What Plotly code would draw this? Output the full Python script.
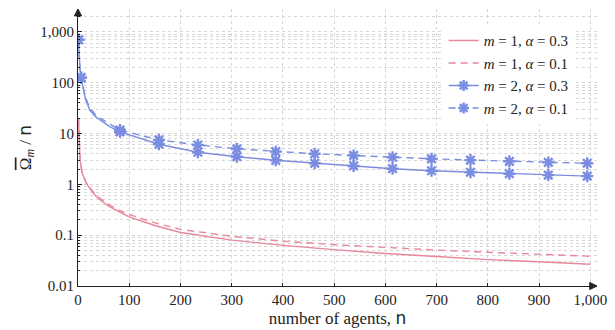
import plotly.graph_objects as go

# ---- data ----
n_pink = [1, 2, 4, 8, 16, 25, 36, 50, 62, 80, 100, 150, 200, 300, 400, 500, 600, 700, 800, 900, 1000]
m1_a03 = [20, 7.5, 3.0, 1.7, 1.06, 0.78, 0.57, 0.44, 0.36, 0.29, 0.23, 0.155, 0.113, 0.08, 0.063,
          0.052, 0.0436, 0.038, 0.033, 0.030, 0.0268]
m1_a01 = [20, 7.5, 3.0, 1.72, 1.08, 0.8, 0.6, 0.47, 0.39, 0.31, 0.255, 0.175, 0.13, 0.095, 0.076,
          0.065, 0.057, 0.051, 0.046, 0.042, 0.0385]

n_blue = [1, 2, 4, 6, 10, 14, 23, 33, 43, 62, 82, 158, 234, 310, 386, 462, 538, 614, 690, 766, 842, 918, 994]
m2_a03 = [700, 360, 180, 126, 72, 50, 29, 22, 18.5, 13.7, 10.8, 6.15, 4.28, 3.5, 2.97, 2.6, 2.3,
          2.03, 1.85, 1.73, 1.62, 1.52, 1.45]
m2_a01 = [700, 360, 180, 126, 75, 53, 32, 24, 20, 15.5, 11.7, 7.5, 5.95, 5.0, 4.4, 4.0, 3.7,
          3.41, 3.18, 3.0, 2.84, 2.7, 2.6]
n_marks = [1, 6, 82, 158, 234, 310, 386, 462, 538, 614, 690, 766, 842, 918, 994]

x_ticks = [0, 100, 200, 300, 400, 500, 600, 700, 800, 900, 1000]
x_ticktext = ["0", "100", "200", "300", "400", "500", "600", "700", "800", "900", "1,000"]
y_ticks = [0.01, 0.1, 1, 10, 100, 1000]
y_ticktext = ["0.01", "0.1", "1", "10", "100", "1,000"]

PINK = "#e8879b"
BLUE = "#7b8de0"
FONT = "Liberation Serif"
SANS = "DejaVu Sans"
DASH = "7px,5px"
LW = 1.4

fig = go.Figure()

labels = ["<i>m</i> = 1, <i>α</i> = 0.3", "<i>m</i> = 1, <i>α</i> = 0.1",
          "<i>m</i> = 2, <i>α</i> = 0.3", "<i>m</i> = 2, <i>α</i> = 0.1"]

fig.add_trace(go.Scatter(x=n_pink, y=m1_a03, mode="lines", name=labels[0],
                         line=dict(color=PINK, width=LW)))
fig.add_trace(go.Scatter(x=n_pink, y=m1_a01, mode="lines", name=labels[1],
                         line=dict(color=PINK, width=LW, dash=DASH)))

for vals, dash, lab in [(m2_a03, "solid", labels[2]), (m2_a01, DASH, labels[3])]:
    fig.add_trace(go.Scatter(x=n_blue, y=vals, mode="lines", showlegend=False,
                             line=dict(color=BLUE, width=LW, dash=dash)))
    my = [vals[n_blue.index(n)] for n in n_marks]
    fig.add_trace(go.Scatter(x=n_marks, y=my, mode="markers", showlegend=False,
                             marker=dict(symbol="asterisk-open", size=10, color=BLUE,
                                         line=dict(color=BLUE, width=2.4))))
    fig.add_trace(go.Scatter(x=[None], y=[None], mode="lines+markers", name=lab,
                             line=dict(color=BLUE, width=LW, dash=dash),
                             marker=dict(symbol="asterisk-open", size=9, color=BLUE,
                                         line=dict(color=BLUE, width=2.4))))

GRID = "#d6d6d6"
fig.update_xaxes(range=[0, 1013], tickvals=x_ticks, ticktext=x_ticktext,
                 showgrid=True, gridcolor=GRID, griddash="dot", gridwidth=1,
                 showline=True, linecolor="#222", linewidth=1,
                 ticks="inside", ticklen=3, tickcolor="#222",
                 zeroline=False, automargin=False,
                 tickfont=dict(family=FONT, size=15, color="#222"),
                 title=dict(text=f"number of agents, <span style='font-family:{SANS}'>n</span>",
                            font=dict(family=FONT, size=17, color="#222"), standoff=4))
fig.update_yaxes(type="log", range=[-2, 3.45], tickvals=y_ticks, ticktext=y_ticktext,
                 showgrid=True, gridcolor=GRID, griddash="dot", gridwidth=1,
                 showline=True, linecolor="#222", linewidth=1,
                 ticks="inside", ticklen=4, tickcolor="#222",
                 automargin=False,
                 minor=dict(dtick="D1", showgrid=True, gridcolor=GRID, griddash="dot",
                            ticks="inside", ticklen=2, tickcolor="#222"),
                 tickfont=dict(family=FONT, size=15, color="#222"),
                 title=dict(text=("<span style='text-decoration:overline'>Ω</span><sub><i>m</i></sub>"
                                  f" / <span style='font-family:{SANS}'>n</span>"),
                            font=dict(family=FONT, size=17, color="#222"), standoff=4))

# axis arrow heads (paper-referenced shapes)
fig.add_shape(type="path", xref="paper", yref="paper",
              path="M 1,0 L 0.986,0.013 L 0.986,-0.013 Z",
              fillcolor="#222", line=dict(color="#222", width=1))
fig.add_shape(type="path", xref="paper", yref="paper",
              path="M 0,1 L -0.007,0.975 L 0.007,0.975 Z",
              fillcolor="#222", line=dict(color="#222", width=1))

fig.update_layout(
    width=615, height=330,
    margin=dict(l=78, r=18, t=9, b=44),
    paper_bgcolor="white", plot_bgcolor="white",
    legend=dict(x=0.955, xanchor="right", y=0.945, yanchor="top",
                bgcolor="white", borderwidth=0,
                font=dict(family=FONT, size=15, color="#222"),
                itemwidth=30, tracegroupgap=0),
)

fig.write_html("out.html", config={"displayModeBar": False},
               post_script="document.body.style.margin='0';")
